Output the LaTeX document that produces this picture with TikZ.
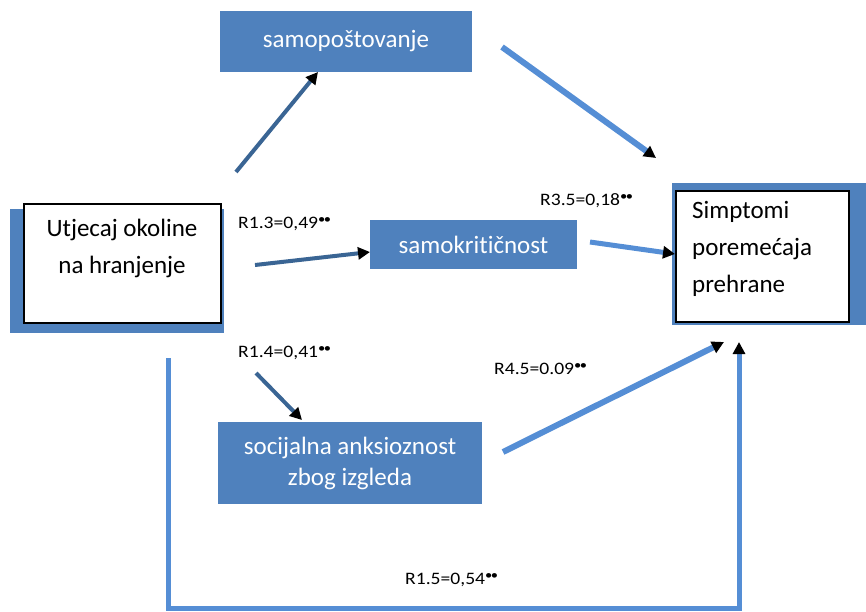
\documentclass[tikz,border=0pt]{standalone}
\usepackage{fontspec}
\setmainfont{Carlito}[Ligatures=NoCommon]
\newfontfamily\lblfont{Carlito}[FakeStretch=1.12,Ligatures=NoCommon]
\usetikzlibrary{arrows.meta}
\definecolor{boxblue}{HTML}{4F81BD}
\definecolor{darkline}{HTML}{3A6594}
\definecolor{lightline}{HTML}{558ED5}
\newcommand\mystars{\raisebox{5.5pt}{\fontsize{13}{13}\selectfont\textbullet\kern-1.5pt\textbullet}}
\begin{document}
\begin{tikzpicture}[x=1pt,y=-1pt,
  bluebox/.style={fill=boxblue,draw=none,text=white,font=\fontsize{25}{31}\selectfont,align=center,inner sep=0pt},
  whitebox/.style={fill=white,draw=black,line width=1.6pt,inner sep=0pt},
  bigtext/.style={font=\fontsize{25}{37}\selectfont,inner sep=0pt},
  lbl/.style={font=\lblfont\fontsize{17.5}{19}\selectfont,anchor=west,inner sep=0pt},
  tip/.style={-{Triangle[color=black,length=12pt,width=12pt]}},
  darkarrow/.style={draw=darkline,line width=4pt,tip},
  lightarrow/.style={draw=lightline,line width=6pt,tip},
]
\useasboundingbox (0,0) rectangle (866,611);
% shadows
\fill[boxblue] (10,209) rectangle (224,333);
\fill[boxblue] (672,183) rectangle (866,325);
% boxes
\node[whitebox,minimum width=197pt,minimum height=119pt] (src) at (122.5,263.5) {};
\node[bigtext,align=center] (srctxt) at (122,248) {Utjecaj okoline\\na hranjenje};
\node[whitebox,minimum width=173pt,minimum height=131pt] (dst) at (762.5,256.5) {};
\node[bigtext,align=left,anchor=west] (dsttxt) at (692,249) {Simptomi\\poreme\'{c}aja\\prehrane};
\node[bluebox,minimum width=252pt,minimum height=61pt] (sp) at (346,41.5) {samopoštovanje};
\node[bluebox,minimum width=207pt,minimum height=49pt] (sk) at (473.5,244.5) {samokritičnost};
\node[bluebox,minimum width=264pt,minimum height=82pt] (sa) at (350,463) {socijalna anksioznost\\zbog izgleda};
% free ends
\coordinate (a1s) at (236,172);
\coordinate (a1e) at (318,72);
\coordinate (a2s) at (502,47);
\coordinate (a2e) at (656,158);
\coordinate (a3s) at (255,265);
\coordinate (a3e) at (370,252);
\coordinate (a4s) at (590,242);
\coordinate (a4e) at (675,254);
\coordinate (a5s) at (256,373);
\coordinate (a5e) at (302,420);
\coordinate (a6s) at (503,452);
\coordinate (a6e) at (724,342);
\coordinate (b1) at (168,358);
\coordinate (b2) at (168,608);
\coordinate (b3) at (739,608);
\coordinate (b4) at (739,342);
% connectors
\draw[darkarrow] (a1s) -- (a1e);
\draw[lightarrow] (a2s) -- (a2e);
\draw[darkarrow] (a3s) -- (a3e);
\draw[lightarrow,line width=5pt] (a4s) -- (a4e);
\draw[darkarrow] (a5s) -- (a5e);
\draw[lightarrow] (a6s) -- (a6e);
\draw[lightarrow,line width=5pt] (b1) -- (b2) -- (b3) -- (b4);
% labels
\node[lbl] (l13) at (238,224) {R1.3=0,49\mystars};
\node[lbl] (l35) at (540,201) {R3.5=0,18\mystars};
\node[lbl] (l14) at (238,353) {R1.4=0,41\mystars};
\node[lbl] (l45) at (494,369) {R4.5=0.09\mystars};
\node[lbl] (l15) at (405,580) {R1.5=0,54\mystars};
\end{tikzpicture}
\end{document}
